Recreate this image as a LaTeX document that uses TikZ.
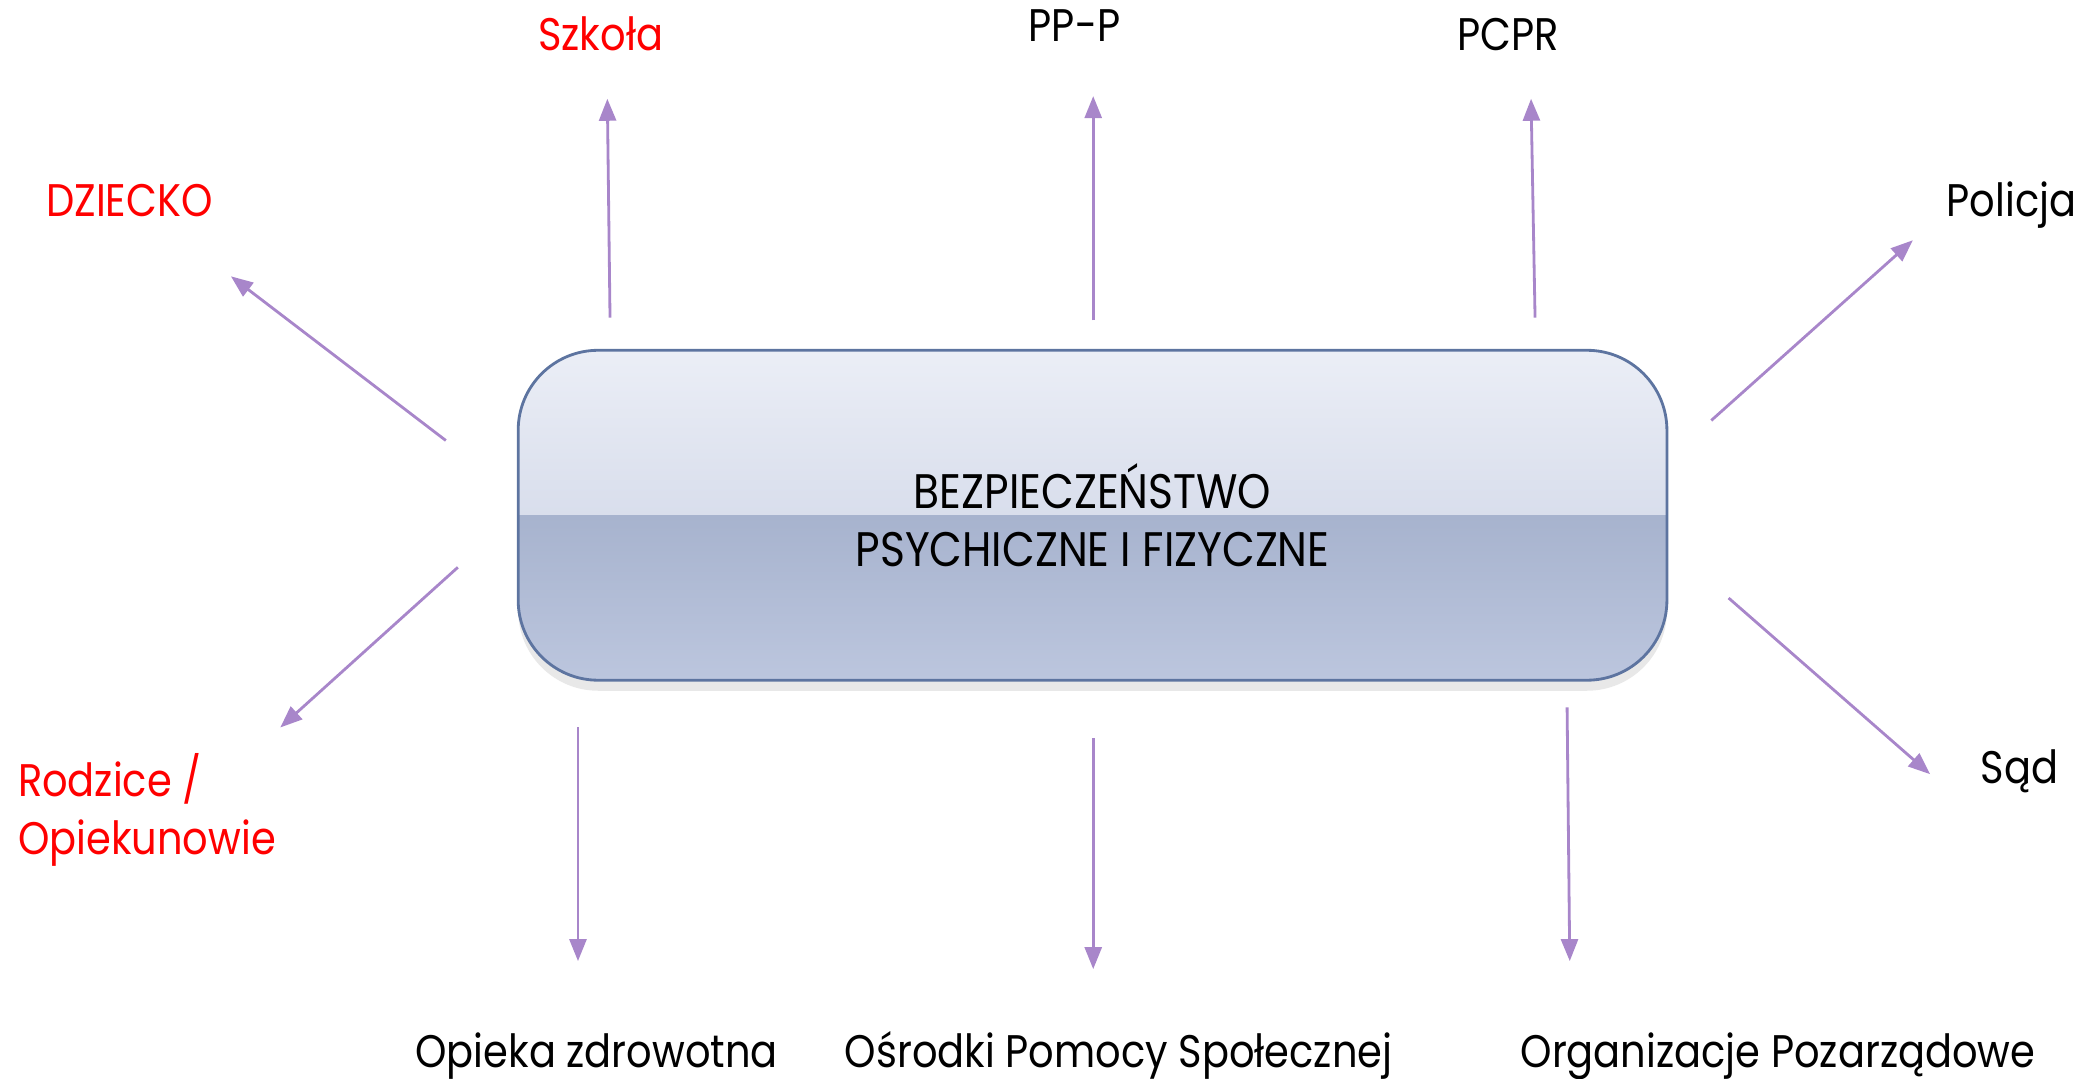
\documentclass[tikz,border=0pt]{standalone}
\usepackage{fontspec}
\setmainfont{Poppins}[FakeStretch=0.875]
\usetikzlibrary{arrows.meta,shadows}
\definecolor{linkpurple}{HTML}{A886CA}
\definecolor{boxborder}{HTML}{5D74A0}
\definecolor{boxtop}{HTML}{EBEEF6}
\definecolor{boxmid}{HTML}{C6CEE2}
\definecolor{boxlow}{HTML}{A7B3CE}
\definecolor{boxbottom}{HTML}{BCC6DE}
\definecolor{alertred}{HTML}{FF0000}
\tikzset{
  agency/.style={font=\fontsize{13}{16.5}\selectfont, inner sep=0pt, anchor=base},
  family/.style={agency, text=alertred},
  link/.style={draw=linkpurple, line width=0.8pt, -{Triangle[length=2.2mm, width=1.7mm]}}
}
\begin{document}
\begin{tikzpicture}[x=0.013348cm, y=-0.013348cm]
  \useasboundingbox (0,0) rectangle (1568,808);
  \node (bezp) [rectangle, draw=boxborder, line width=0.8pt, rounded corners=0.8cm,
    minimum width=11.49cm, minimum height=3.30cm, align=center,
    font=\fontsize{13.8}{16.5}\selectfont,
    drop shadow={shadow xshift=0pt, shadow yshift=-3pt, opacity=0.18},
    path picture={
      \fill[sharp corners, top color=boxtop, bottom color=boxmid] (path picture bounding box.north west) rectangle (path picture bounding box.east);
      \fill[sharp corners, top color=boxlow, bottom color=boxbottom] (path picture bounding box.west) rectangle (path picture bounding box.south east);
    }] at (818.5,386) {BEZPIECZEŃSTWO\\PSYCHICZNE I FIZYCZNE};

  \node (dziecko) [family] at (97,162) {DZIECKO};
  \node (szkola) [family] at (450,38) {Szkoła};
  \node (ppp) [agency] at (805,31) {PP-P};
  \node (pcpr) [agency] at (1130,38) {PCPR};
  \node (policja) [agency] at (1507,162) {Policja};
  \node (rodzice) [family, anchor=base west, align=left] at (13,640) {Rodzice /\\Opiekunowie};
  \node (sad) [agency] at (1513,587) {Sąd};
  \node (opieka) [agency] at (447,800) {Opieka zdrowotna};
  \node (osrodki) [agency] at (838,800) {Ośrodki Pomocy Społecznej};
  \node (organizacje) [agency] at (1332,800) {Organizacje Pozarządowe};

  \coordinate (dziecko-from) at (334,330);
  \coordinate (dziecko-to) at (173,207);
  \coordinate (szkola-from) at (457,238);
  \coordinate (szkola-to) at (455,74);
  \coordinate (ppp-from) at (819,240);
  \coordinate (ppp-to) at (819,72);
  \coordinate (pcpr-from) at (1150,238);
  \coordinate (pcpr-to) at (1147,74);
  \coordinate (policja-from) at (1282,315);
  \coordinate (policja-to) at (1433,180);
  \coordinate (rodzice-from) at (343,425);
  \coordinate (rodzice-to) at (210,545);
  \coordinate (opieka-from) at (433,545);
  \coordinate (opieka-to) at (433,720);
  \coordinate (osrodki-from) at (819,553);
  \coordinate (osrodki-to) at (819,726);
  \coordinate (organizacje-from) at (1174,530);
  \coordinate (organizacje-to) at (1176,720);
  \coordinate (sad-from) at (1295,448);
  \coordinate (sad-to) at (1446,580);

  \draw[link] (dziecko-from) -- (dziecko-to);
  \draw[link] (szkola-from) -- (szkola-to);
  \draw[link] (ppp-from) -- (ppp-to);
  \draw[link] (pcpr-from) -- (pcpr-to);
  \draw[link] (policja-from) -- (policja-to);
  \draw[link] (rodzice-from) -- (rodzice-to);
  \draw[link] (opieka-from) -- (opieka-to);
  \draw[link] (osrodki-from) -- (osrodki-to);
  \draw[link] (organizacje-from) -- (organizacje-to);
  \draw[link] (sad-from) -- (sad-to);
\end{tikzpicture}
\end{document}
